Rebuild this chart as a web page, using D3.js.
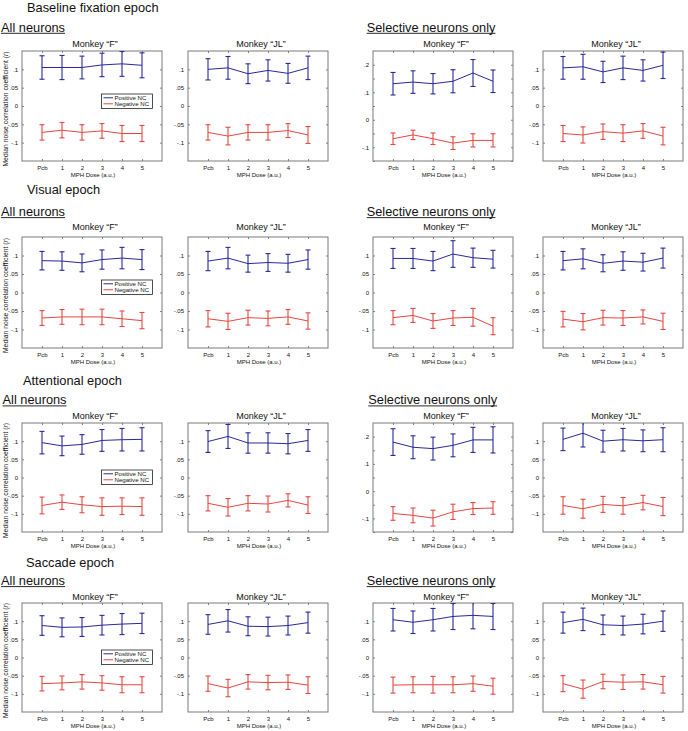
<!DOCTYPE html>
<html><head><meta charset="utf-8">
<script src="https://cdn.jsdelivr.net/npm/d3@7"></script>
<style>
body{margin:0;background:#fff}
svg{display:block}
text{font-family:"Liberation Sans",Arial,Helvetica,sans-serif;fill:#111}
</style>
</head><body>
<svg id="fig" width="688" height="731"></svg>
<script>
// ---------------- categories & labels ----------------
const doses = ["Pcb","1","2","3","4","5"];
const epochs = ["Baseline fixation epoch","Visual epoch","Attentional epoch","Saccade epoch"];
const groups = ["All neurons","Selective neurons only"];
const monkeys = ["Monkey \u201CF\u201D","Monkey \u201CJL\u201D"];
const seriesNames = ["Positive NC","Negative NC"];
const yLabel = "Median noise correlation coefficient";
const xLabel = "MPH Dose (a.u.)";
const narrowDomain = [-0.15, 0.15];
const wideDomain = [-0.15, 0.25];
const narrowTicks = [-0.1,-0.05,0,0.05,0.1];
const narrowTickLabels = ["-.1","-.05","0",".05",".1"];
const wideTicks = [-0.15,-0.1,-0.05,0,0.05,0.1,0.15,0.2];
const wideTickLabels = ["","-.1","","0","",".1","",".2"];

// ---------------- data: median (mean line) and error half-width ----------------
// Baseline fixation epoch
const baseAllF_pos = [0.105,0.105,0.105,0.112,0.115,0.111];
const baseAllF_posErr = [0.032,0.033,0.031,0.032,0.034,0.034];
const baseAllF_neg = [-0.072,-0.066,-0.072,-0.068,-0.075,-0.075];
const baseAllF_negErr = [0.021,0.021,0.021,0.020,0.022,0.022];
const baseAllJL_pos = [0.100,0.104,0.088,0.097,0.089,0.104];
const baseAllJL_posErr = [0.029,0.031,0.027,0.029,0.027,0.032];
const baseAllJL_neg = [-0.072,-0.082,-0.072,-0.072,-0.067,-0.079];
const baseAllJL_negErr = [0.021,0.024,0.021,0.021,0.019,0.023];
const baseSelF_pos = [0.131,0.137,0.131,0.140,0.170,0.140];
const baseSelF_posErr = [0.041,0.041,0.037,0.042,0.049,0.041];
const baseSelF_neg = [-0.069,-0.055,-0.069,-0.085,-0.075,-0.075];
const baseSelF_negErr = [0.021,0.017,0.021,0.023,0.024,0.024];
const baseSelJL_pos = [0.104,0.107,0.093,0.104,0.097,0.111];
const baseSelJL_posErr = [0.031,0.034,0.029,0.032,0.029,0.036];
const baseSelJL_neg = [-0.075,-0.079,-0.070,-0.074,-0.068,-0.082];
const baseSelJL_negErr = [0.022,0.022,0.021,0.023,0.020,0.024];
// Visual epoch
const visAllF_pos = [0.086,0.085,0.080,0.089,0.093,0.089];
const visAllF_posErr = [0.025,0.025,0.024,0.026,0.029,0.027];
const visAllF_neg = [-0.069,-0.066,-0.066,-0.066,-0.071,-0.076];
const visAllF_negErr = [0.020,0.020,0.021,0.021,0.021,0.022];
const visAllJL_pos = [0.085,0.093,0.078,0.081,0.079,0.089];
const visAllJL_posErr = [0.026,0.029,0.023,0.024,0.024,0.026];
const visAllJL_neg = [-0.071,-0.078,-0.068,-0.070,-0.066,-0.077];
const visAllJL_negErr = [0.022,0.022,0.020,0.020,0.020,0.022];
const visSelF_pos = [0.092,0.092,0.085,0.104,0.094,0.090];
const visSelF_posErr = [0.027,0.027,0.026,0.036,0.026,0.024];
const visSelF_neg = [-0.068,-0.062,-0.077,-0.069,-0.067,-0.091];
const visSelF_negErr = [0.019,0.019,0.020,0.020,0.024,0.023];
const visSelJL_pos = [0.086,0.091,0.079,0.085,0.082,0.093];
const visSelJL_posErr = [0.025,0.027,0.023,0.025,0.024,0.027];
const visSelJL_neg = [-0.072,-0.079,-0.068,-0.069,-0.066,-0.078];
const visSelJL_negErr = [0.021,0.022,0.020,0.020,0.019,0.022];
// Attentional epoch
const attAllF_pos = [0.096,0.087,0.091,0.102,0.104,0.105];
const attAllF_posErr = [0.031,0.027,0.027,0.030,0.031,0.032];
const attAllF_neg = [-0.077,-0.068,-0.075,-0.080,-0.079,-0.080];
const attAllF_negErr = [0.023,0.020,0.022,0.024,0.023,0.024];
const attAllJL_pos = [0.099,0.113,0.095,0.095,0.093,0.102];
const attAllJL_posErr = [0.030,0.033,0.028,0.028,0.028,0.030];
const attAllJL_neg = [-0.071,-0.082,-0.071,-0.073,-0.063,-0.076];
const attAllJL_negErr = [0.021,0.024,0.021,0.022,0.018,0.023];
const attSelF_pos = [0.180,0.161,0.156,0.168,0.188,0.188];
const attSelF_posErr = [0.049,0.042,0.042,0.042,0.046,0.048];
const attSelF_neg = [-0.082,-0.089,-0.099,-0.076,-0.064,-0.062];
const attSelF_negErr = [0.025,0.027,0.029,0.028,0.022,0.023];
const attSelJL_pos = [0.105,0.122,0.100,0.104,0.101,0.104];
const attSelJL_posErr = [0.031,0.038,0.030,0.031,0.030,0.033];
const attSelJL_neg = [-0.077,-0.086,-0.074,-0.078,-0.069,-0.080];
const attSelJL_negErr = [0.024,0.026,0.022,0.023,0.020,0.025];
// Saccade epoch
const sacAllF_pos = [0.088,0.083,0.084,0.089,0.092,0.094];
const sacAllF_posErr = [0.027,0.026,0.026,0.027,0.029,0.028];
const sacAllF_neg = [-0.072,-0.070,-0.067,-0.070,-0.075,-0.075];
const sacAllF_negErr = [0.020,0.019,0.020,0.020,0.022,0.022];
const sacAllJL_pos = [0.091,0.101,0.086,0.085,0.088,0.096];
const sacAllJL_posErr = [0.027,0.031,0.026,0.026,0.026,0.029];
const sacAllJL_neg = [-0.072,-0.084,-0.067,-0.069,-0.068,-0.076];
const sacAllJL_negErr = [0.021,0.024,0.020,0.020,0.020,0.023];
const sacSelF_pos = [0.104,0.097,0.104,0.113,0.116,0.113];
const sacSelF_posErr = [0.031,0.031,0.031,0.036,0.037,0.036];
const sacSelF_neg = [-0.076,-0.075,-0.075,-0.075,-0.072,-0.079];
const sacSelF_negErr = [0.022,0.022,0.023,0.022,0.021,0.022];
const sacSelJL_pos = [0.096,0.105,0.090,0.088,0.092,0.100];
const sacSelJL_posErr = [0.029,0.031,0.027,0.026,0.027,0.028];
const sacSelJL_neg = [-0.072,-0.087,-0.066,-0.068,-0.067,-0.075];
const sacSelJL_negErr = [0.022,0.025,0.020,0.020,0.020,0.023];

// ---------------- panel table built from the arrays ----------------
const panelRows = [
  [[baseAllF_pos,baseAllF_posErr,baseAllF_neg,baseAllF_negErr,"n"],
   [baseAllJL_pos,baseAllJL_posErr,baseAllJL_neg,baseAllJL_negErr,"n"],
   [baseSelF_pos,baseSelF_posErr,baseSelF_neg,baseSelF_negErr,"w"],
   [baseSelJL_pos,baseSelJL_posErr,baseSelJL_neg,baseSelJL_negErr,"n"]],
  [[visAllF_pos,visAllF_posErr,visAllF_neg,visAllF_negErr,"n"],
   [visAllJL_pos,visAllJL_posErr,visAllJL_neg,visAllJL_negErr,"n"],
   [visSelF_pos,visSelF_posErr,visSelF_neg,visSelF_negErr,"n"],
   [visSelJL_pos,visSelJL_posErr,visSelJL_neg,visSelJL_negErr,"n"]],
  [[attAllF_pos,attAllF_posErr,attAllF_neg,attAllF_negErr,"n"],
   [attAllJL_pos,attAllJL_posErr,attAllJL_neg,attAllJL_negErr,"n"],
   [attSelF_pos,attSelF_posErr,attSelF_neg,attSelF_negErr,"w"],
   [attSelJL_pos,attSelJL_posErr,attSelJL_neg,attSelJL_negErr,"n"]],
  [[sacAllF_pos,sacAllF_posErr,sacAllF_neg,sacAllF_negErr,"n"],
   [sacAllJL_pos,sacAllJL_posErr,sacAllJL_neg,sacAllJL_negErr,"n"],
   [sacSelF_pos,sacSelF_posErr,sacSelF_neg,sacSelF_negErr,"n"],
   [sacSelJL_pos,sacSelJL_posErr,sacSelJL_neg,sacSelJL_negErr,"n"]]
];

// ---------------- layout ----------------
const colX = [22, 188, 373, 543];
const panelW = 140;
const rowTop = [51, 237, 423, 603];
const rowH = [110, 111, 109, 109];
const epochX = [27, 27, 23, 26];
const epochY = [11.5, 194, 385, 567];
const groupY = [31.7, 216, 404.3, 585];
const groupX = [[1,366.7],[1,366.7],[2.5,368.3],[1,366.7]];
const titleY = [46.5, 229.5, 419, 599.5];
const legendOff = [43, 43, 47, 47];
const colors = ["#28289c", "#e5463f"];

const svg = d3.select("#fig");
let clipId = 0;

function underlineText(sel, x, y, size, txt) {
  const t = sel.append("text").attr("x", x).attr("y", y)
    .attr("font-size", size).text(txt);
  const w = t.node().getComputedTextLength();
  sel.append("line").attr("x1", x).attr("x2", x + w)
    .attr("y1", y + 1.6).attr("y2", y + 1.6)
    .attr("stroke", "#111").attr("stroke-width", 0.9);
}

panelRows.forEach((row, r) => {
  svg.append("text").attr("x", epochX[r]).attr("y", epochY[r])
    .attr("font-size", 12.8).text(epochs[r]);
  underlineText(svg, groupX[r][0], groupY[r], 12.8, groups[0]);
  underlineText(svg, groupX[r][1], groupY[r], 12.8, groups[1]);

  row.forEach((p, c) => {
    const [pos, posErr, neg, negErr, kind] = p;
    const H = rowH[r];
    const g = svg.append("g").attr("transform", `translate(${colX[c]},${rowTop[r]})`);
    const x = d3.scaleLinear().domain([-1, 6]).range([0, panelW]);
    const dom = kind === "w" ? wideDomain : narrowDomain;
    const ticks = kind === "w" ? wideTicks : narrowTicks;
    const tickLabels = kind === "w" ? wideTickLabels : narrowTickLabels;
    const y = d3.scaleLinear().domain(dom).range([H, 0]);
    const fmt = d => tickLabels[ticks.indexOf(d)];

    // title
    g.append("text").attr("x", panelW / 2 + 3).attr("y", titleY[r] - rowTop[r])
      .attr("text-anchor", "middle").attr("font-size", 9).text(monkeys[c % 2]);

    // axes
    const yAxL = d3.axisLeft(y).tickValues(ticks).tickFormat(fmt).tickSize(-2).tickPadding(4);
    const yAxR = d3.axisRight(y).tickValues(ticks).tickFormat("").tickSize(-2);
    const xAxB = d3.axisBottom(x).tickValues(d3.range(6)).tickFormat(i => doses[i]).tickSize(-2).tickPadding(5);
    const xAxT = d3.axisTop(x).tickValues(d3.range(6)).tickFormat("").tickSize(-2);
    const styleAx = a => {
      a.select(".domain").remove();
      a.selectAll("line").attr("stroke", "#666").attr("stroke-width", 0.8);
      a.selectAll("text").attr("font-size", 6).attr("fill", "#222")
        .attr("font-family", "'Liberation Sans',Arial,sans-serif");
    };
    g.append("g").call(yAxL).call(styleAx);
    g.append("g").attr("transform", `translate(${panelW},0)`).call(yAxR).call(styleAx);
    g.append("g").attr("transform", `translate(0,${H})`).call(xAxB).call(styleAx);
    g.append("g").call(xAxT).call(styleAx);

    g.append("text").attr("x", panelW / 2 + 1).attr("y", H + 15.5)
      .attr("text-anchor", "middle").attr("font-size", 6).attr("fill", "#222").text(xLabel);

    // box
    g.append("rect").attr("width", panelW).attr("height", H)
      .attr("fill", "none").attr("stroke", "#7a7a7a").attr("stroke-width", 1);

    // clip
    const id = "clip" + (clipId++);
    g.append("clipPath").attr("id", id).append("rect").attr("width", panelW).attr("height", H);
    const plot = g.append("g").attr("clip-path", `url(#${id})`);

    [[pos, posErr], [neg, negErr]].forEach(([vals, errs], s) => {
      const col = colors[s];
      const line = d3.line().x((d, i) => x(i)).y(d => y(d));
      plot.append("path").datum(vals).attr("d", line)
        .attr("fill", "none").attr("stroke", col).attr("stroke-width", 1);
      const eb = plot.append("g").attr("stroke", col).attr("stroke-width", 1.1);
      vals.forEach((v, i) => {
        const xi = x(i), y1 = y(v + errs[i]), y0 = y(v - errs[i]);
        eb.append("line").attr("x1", xi).attr("x2", xi).attr("y1", y1).attr("y2", y0);
        eb.append("line").attr("x1", xi - 2.5).attr("x2", xi + 2.5).attr("y1", y1).attr("y2", y1);
        eb.append("line").attr("x1", xi - 2.5).attr("x2", xi + 2.5).attr("y1", y0).attr("y2", y0);
      });
    });

    if (c === 0) {
      // y label
      const yl = svg.append("text")
        .attr("transform", `translate(8.3,${rowTop[r] + H / 2 + 3}) rotate(-90)`)
        .attr("text-anchor", "middle").attr("font-size", 6.8).attr("fill", "#222");
      yl.append("tspan").text(yLabel + " (");
      yl.append("tspan").attr("font-style", "italic").text("r");
      yl.append("tspan").text(")");

      // legend
      const lg = g.append("g").attr("transform", `translate(79.5,${legendOff[r]})`);
      lg.append("rect").attr("width", 51).attr("height", 14.5)
        .attr("fill", "#fff").attr("stroke", "#222").attr("stroke-width", 0.8);
      seriesNames.forEach((nm, s) => {
        const yy = 3.8 + s * 6;
        lg.append("line").attr("x1", 2).attr("x2", 11.5).attr("y1", yy).attr("y2", yy)
          .attr("stroke", colors[s]).attr("stroke-width", 1);
        lg.append("text").attr("x", 13).attr("y", yy + 2.2).attr("font-size", 6.1)
          .attr("fill", "#222").text(nm);
      });
    }
  });
});
</script>
</body></html>
